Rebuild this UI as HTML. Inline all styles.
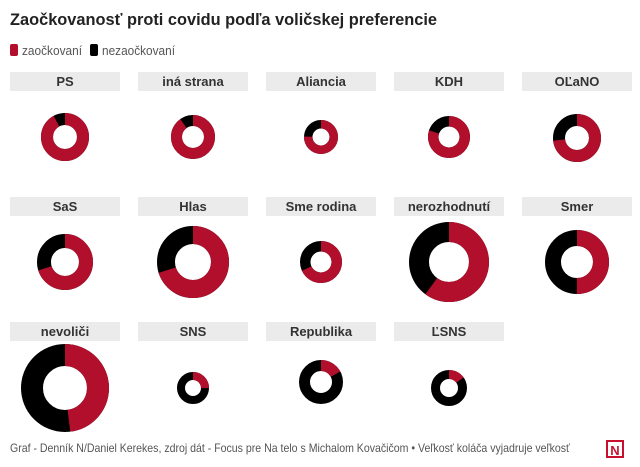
<!DOCTYPE html>
<html><head><meta charset="utf-8"><style>
body{margin:0;background:#fff;width:640px;height:462px;overflow:hidden;font-family:"Liberation Sans",sans-serif}
</style></head><body>
<svg width="640" height="462" xmlns="http://www.w3.org/2000/svg" font-family="Liberation Sans, sans-serif">
<text x="10" y="25" font-size="17" font-weight="bold" fill="#222" textLength="427" lengthAdjust="spacingAndGlyphs">Zaočkovanosť proti covidu podľa voličskej preferencie</text>
<rect x="10" y="44" width="8" height="12" rx="2" fill="#b20f2c"/>
<text x="22" y="55" font-size="13" fill="#555" textLength="60" lengthAdjust="spacingAndGlyphs">zaočkovaní</text>
<rect x="90" y="44" width="8" height="12" rx="2" fill="#000"/>
<text x="102" y="55" font-size="13" fill="#555" textLength="73" lengthAdjust="spacingAndGlyphs">nezaočkovaní</text>
<g id="heads" font-size="13" font-weight="bold" fill="#333" text-anchor="middle">
<rect x="10" y="72" width="110" height="19" fill="#ebebeb"/><text x="65" y="86">PS</text>
<rect x="138" y="72" width="110" height="19" fill="#ebebeb"/><text x="193" y="86">iná strana</text>
<rect x="266" y="72" width="110" height="19" fill="#ebebeb"/><text x="321" y="86">Aliancia</text>
<rect x="394" y="72" width="110" height="19" fill="#ebebeb"/><text x="449" y="86">KDH</text>
<rect x="522" y="72" width="110" height="19" fill="#ebebeb"/><text x="577" y="86">OĽaNO</text>
<rect x="10" y="197" width="110" height="19" fill="#ebebeb"/><text x="65" y="211">SaS</text>
<rect x="138" y="197" width="110" height="19" fill="#ebebeb"/><text x="193" y="211">Hlas</text>
<rect x="266" y="197" width="110" height="19" fill="#ebebeb"/><text x="321" y="211">Sme rodina</text>
<rect x="394" y="197" width="110" height="19" fill="#ebebeb"/><text x="449" y="211">nerozhodnutí</text>
<rect x="522" y="197" width="110" height="19" fill="#ebebeb"/><text x="577" y="211">Smer</text>
<rect x="10" y="322" width="110" height="19" fill="#ebebeb"/><text x="65" y="336">nevoliči</text>
<rect x="138" y="322" width="110" height="19" fill="#ebebeb"/><text x="193" y="336">SNS</text>
<rect x="266" y="322" width="110" height="19" fill="#ebebeb"/><text x="321" y="336">Republika</text>
<rect x="394" y="322" width="110" height="19" fill="#ebebeb"/><text x="449" y="336">ĽSNS</text>
</g>
<g id="donuts"></g>
<text x="10" y="452" font-size="12" fill="#555" textLength="560" lengthAdjust="spacingAndGlyphs">Graf - Denník N/Daniel Kerekes, zdroj dát - Focus pre Na telo s Michalom Kovačičom • Veľkosť koláča vyjadruje veľkosť</text>
<rect x="607" y="441" width="16" height="16" fill="#fff" stroke="#c8102e" stroke-width="2"/>
<text x="615" y="455" font-size="13" font-weight="bold" fill="#c8102e" text-anchor="middle">N</text>
</svg>
<script>
var d=[[65,137,24,0.92],[193,137,22,0.9],[321,137,17,0.75],[449,137,21,0.8],[577,138,24,0.73],
[65,262,28,0.7],[193,262,36,0.7],[321,262,21,0.68],[449,262,40,0.6],[577,262,32,0.5],
[65,388,44,0.48],[193,388,16,0.25],[321,382,22,0.17],[449,388,18,0.15]];
var g=document.getElementById('donuts'),h='';
d.forEach(function(a){var r=a[2],ri=r*0.5,m=(r+ri)/2,w=r-ri,C=2*Math.PI*m;
h+='<circle cx="'+a[0]+'" cy="'+a[1]+'" r="'+m+'" fill="none" stroke="#000" stroke-width="'+w+'"/>';
h+='<circle cx="'+a[0]+'" cy="'+a[1]+'" r="'+m+'" fill="none" stroke="#b20f2c" stroke-width="'+w+'" stroke-dasharray="'+(a[3]*C)+' '+C+'" transform="rotate(-90 '+a[0]+' '+a[1]+')"/>';});
g.innerHTML=h;
</script>
</body></html>
